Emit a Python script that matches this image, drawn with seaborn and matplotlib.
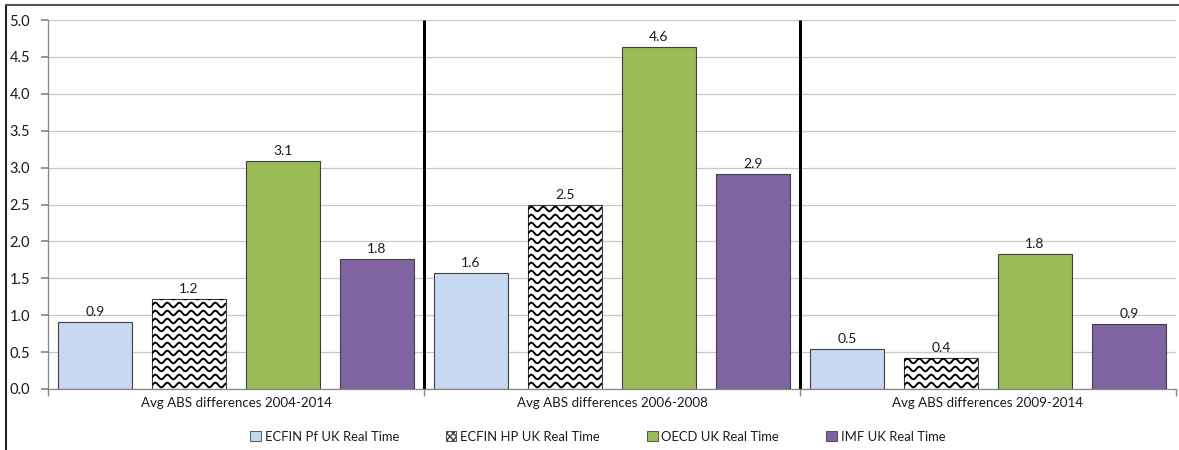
import numpy as np
import pandas as pd
import matplotlib
matplotlib.use("Agg")
import matplotlib.pyplot as plt
import seaborn as sns
from matplotlib.patches import Patch
from matplotlib.lines import Line2D

# data
periods = ["Avg ABS differences 2004-2014", "Avg ABS differences 2006-2008", "Avg ABS differences 2009-2014"]
series = ["ECFIN Pf UK Real Time", "ECFIN HP UK Real Time", "OECD UK Real Time", "IMF UK Real Time"]
ecfin_pf = [0.91, 1.57, 0.54]
ecfin_hp = [1.22, 2.49, 0.42]
oecd = [3.09, 4.63, 1.83]
imf = [1.76, 2.91, 0.88]
colors = ["#C6D9F1", "#FFFFFF", "#9BBB59", "#8064A2"]

df = pd.DataFrame({
    "period": periods * 4,
    "series": np.repeat(series, len(periods)),
    "value": ecfin_pf + ecfin_hp + oecd + imf,
})

sns.set_theme(style="white")
plt.rcParams['font.family'] = ['Lato', 'DejaVu Sans']
text_col = "#1a1a1a"
axis_col = "#868686"

W, H = 1179, 450
fig = plt.figure(figsize=(W / 100, H / 100), dpi=100)
ax_box = [48 / W, 1 - 389 / H, (1176 - 48) / W, (389 - 20) / H]
ax = fig.add_axes(ax_box)

sns.barplot(data=df, x="period", y="value", hue="series", hue_order=series,
            palette=colors, saturation=1, width=1.0, gap=0.22,
            edgecolor="#404040", linewidth=0.8, legend=False, ax=ax)

ax.set_xlim(-0.5, 2.5)
ax.set_ylim(0, 5)

# wavy pattern on the ECFIN HP bars, clipped to each bar
sx = 3.0 / (ax_box[2] * W)
sy = 5.0 / (ax_box[3] * H)
period, amp, step = 12 * sx, 2.3 * sy, 8 * sy
for p in ax.containers[1].patches:
    x0, w, h = p.get_x(), p.get_width(), p.get_height()
    xs = np.linspace(x0, x0 + w, 300)
    for yc in np.arange(step / 2, h + step, step):
        ys = yc + amp * np.sin(2 * np.pi * (xs - x0) / period)
        ln, = ax.plot(xs, ys, color="black", lw=1.4)
        ln.set_clip_path(p)

for c in ax.containers:
    ax.bar_label(c, fmt="%.1f", padding=3, fontsize=10, color=text_col)

# category separators
ax.vlines([0.5, 1.5], 0, 5, color="black", lw=2.2, zorder=5)

ax.set_yticks(np.arange(0, 5.01, 0.5))
ax.yaxis.set_major_formatter(matplotlib.ticker.FormatStrFormatter("%.1f"))
ax.yaxis.grid(True, color="#C8C8C8", lw=0.9)
ax.set_axisbelow(True)
ax.set_xlabel("")
ax.set_ylabel("")
for s in ["top", "right"]:
    ax.spines[s].set_visible(False)
for s in ["left", "bottom"]:
    ax.spines[s].set_color(axis_col)
    ax.spines[s].set_linewidth(0.9)
ax.set_xticks([-0.5, 0.5, 1.5, 2.5], minor=True)
ax.tick_params(axis="x", which="major", length=0, pad=6, labelsize=9.6, labelcolor=text_col)
ax.tick_params(axis="x", which="minor", length=5, color=axis_col, direction="out", bottom=True)
ax.tick_params(axis="y", length=5, color=axis_col, direction="out", left=True,
               labelsize=10.5, labelcolor=text_col, pad=8)

# figure border (left and top)
fig.add_artist(Line2D([6 / W, 6 / W], [0, 1 - 5 / H], transform=fig.transFigure, color="#222222", lw=1.5))
fig.add_artist(Line2D([6 / W, 1], [1 - 5 / H, 1 - 5 / H], transform=fig.transFigure, color="#555555", lw=1.5))

handles = [Patch(facecolor=col, edgecolor="#404040", lw=0.6, hatch=("xxxxx" if i == 1 else None))
           for i, col in enumerate(colors)]
fig.legend(handles, series, loc="center", bbox_to_anchor=(0.507, 0.029), ncol=4, frameon=False,
           handlelength=0.8, handleheight=0.8, handletextpad=0.3, columnspacing=3.6,
           fontsize=9.4, labelcolor=text_col)

fig.savefig("out.png", dpi=100)
